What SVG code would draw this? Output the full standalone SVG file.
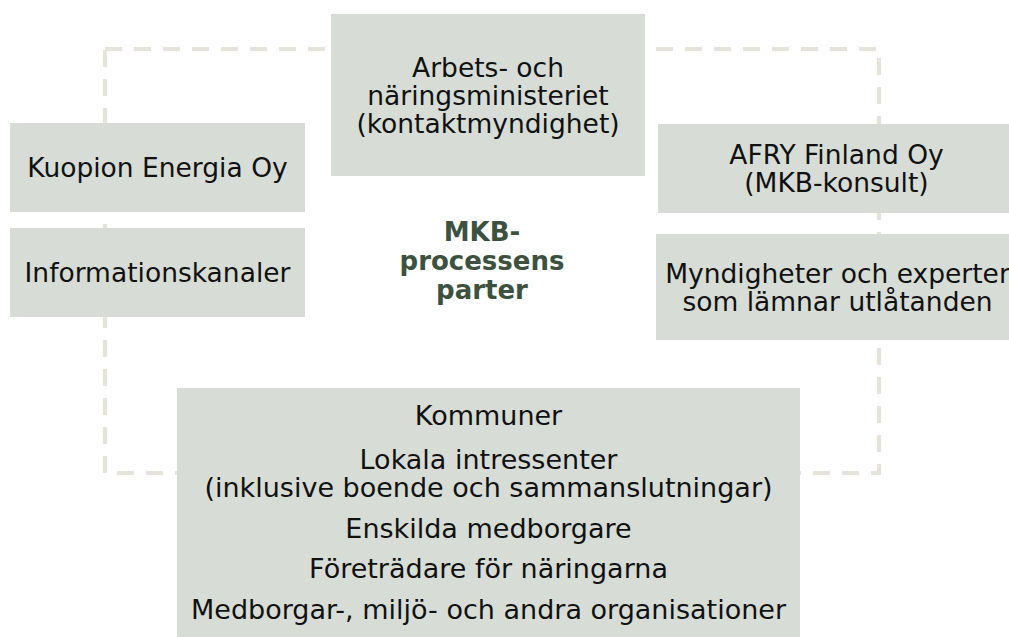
<svg xmlns="http://www.w3.org/2000/svg" width="1009" height="637" viewBox="0 0 1009 637">
<style>
.box{fill:#d7ddd6;}
.t{font-family:"DejaVu Sans","Verdana",sans-serif;font-size:26.5px;fill:#111;text-anchor:middle;}
.b{font-size:27px;}
.c{font-family:"DejaVu Sans","Verdana",sans-serif;font-size:26px;font-weight:bold;fill:#3d5140;text-anchor:middle;}
.frame{fill:none;stroke:#e6e3dc;stroke-width:4;stroke-dasharray:17 12;}
</style>
<rect width="1009" height="637" fill="#ffffff"/>
<g id="connectors">
<rect class="frame" x="105" y="49" width="774" height="424"/>
</g>
<g id="center-label">
<text class="c" x="482" y="241">MKB-</text>
<text class="c" x="482" y="270">processens</text>
<text class="c" x="482" y="299">parter</text>
</g>
<g id="node-tem">
<rect class="box" x="331" y="14" width="314" height="162"/>
<text class="t" x="488" y="77">Arbets- och</text>
<text class="t" x="488" y="105">näringsministeriet</text>
<text class="t" x="488" y="133">(kontaktmyndighet)</text>
</g>
<g id="node-kuopion">
<rect class="box" x="10" y="123" width="295" height="89"/>
<text class="t" x="157.5" y="177">Kuopion Energia Oy</text>
</g>
<g id="node-info">
<rect class="box" x="10" y="228" width="295" height="89"/>
<text class="t" x="157.5" y="282">Informationskanaler</text>
</g>
<g id="node-afry">
<rect class="box" x="658" y="124" width="357" height="89"/>
<text class="t" x="836.5" y="164">AFRY Finland Oy</text>
<text class="t" x="836.5" y="192">(MKB-konsult)</text>
</g>
<g id="node-myndigheter">
<rect class="box" x="656" y="234" width="363" height="106"/>
<text class="t" x="837.5" y="283">Myndigheter och experter</text>
<text class="t" x="837.5" y="311">som lämnar utlåtanden</text>
</g>
<g id="node-lokala">
<rect class="box" x="177" y="388" width="623" height="249"/>
<text class="t b" x="488.5" y="425">Kommuner</text>
<text class="t b" x="488.5" y="469">Lokala intressenter</text>
<text class="t b" x="488.5" y="497">(inklusive boende och sammanslutningar)</text>
<text class="t b" x="488.5" y="538">Enskilda medborgare</text>
<text class="t b" x="488.5" y="578">Företrädare för näringarna</text>
<text class="t b" x="488.5" y="619">Medborgar-, miljö- och andra organisationer</text>
</g>
</svg>
